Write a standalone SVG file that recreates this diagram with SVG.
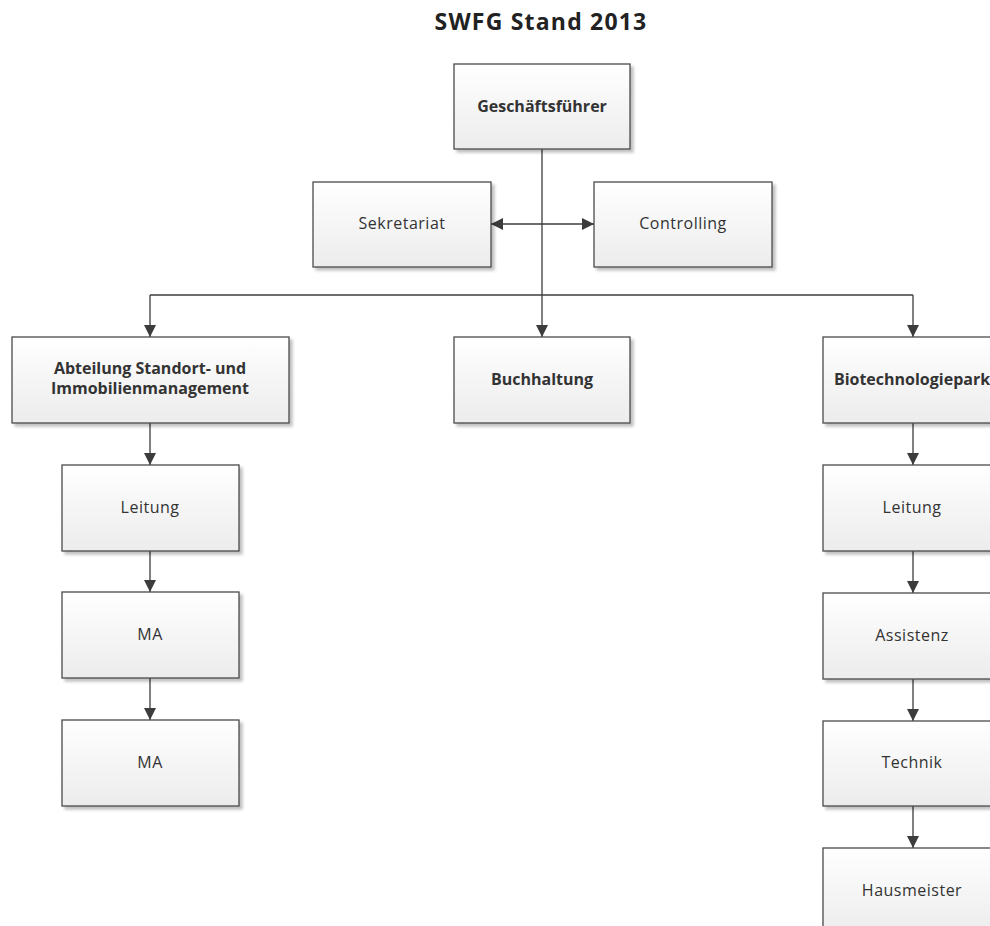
<svg xmlns="http://www.w3.org/2000/svg" width="990" height="926" viewBox="0 0 990 926">
<defs>
<linearGradient id="g" x1="0" y1="0" x2="0" y2="1">
<stop offset="0" stop-color="#ffffff"/>
<stop offset="1" stop-color="#ececec"/>
</linearGradient>
<filter id="sh" x="-10%" y="-10%" width="130%" height="130%">
<feGaussianBlur in="SourceAlpha" stdDeviation="1.5"/>
<feOffset dx="3" dy="3" result="b"/>
<feComponentTransfer><feFuncA type="linear" slope="0.25"/></feComponentTransfer>
<feMerge><feMergeNode/><feMergeNode in="SourceGraphic"/></feMerge>
</filter>
<marker id="ah" viewBox="0 0 12 12" refX="12" refY="6" markerWidth="12" markerHeight="12" markerUnits="userSpaceOnUse" orient="auto">
<path d="M0,0 L12,6 L0,12 z" fill="#3c3c3c"/>
</marker>
</defs>
<style>
.box{fill:url(#g);stroke:#4a4a4a;stroke-width:1.3;filter:url(#sh)}
.t{font-family:"Open Sans","Liberation Sans",sans-serif;font-size:16px;fill:#333;text-anchor:middle;letter-spacing:0.5px}
.b{font-weight:bold;letter-spacing:0}
.c{fill:none;stroke:#3c3c3c;stroke-width:1.3}
</style>
<rect width="990" height="926" fill="#ffffff"/>
<text x="541" y="30" font-family="'Open Sans','Liberation Sans',sans-serif" font-size="23" font-weight="bold" fill="#222" letter-spacing="1.2" text-anchor="middle">SWFG Stand 2013</text>
<g id="connectors">
<path class="c" d="M542,149 V295"/>
<path class="c" d="M542,224 H491" marker-end="url(#ah)"/>
<path class="c" d="M542,224 H594" marker-end="url(#ah)"/>
<path class="c" d="M150,295 H913"/>
<path class="c" d="M542,295 V337" marker-end="url(#ah)"/>
<path class="c" d="M150,295 V337" marker-end="url(#ah)"/>
<path class="c" d="M913,295 V337" marker-end="url(#ah)"/>
<path class="c" d="M150,423 V465" marker-end="url(#ah)"/>
<path class="c" d="M150,551 V592" marker-end="url(#ah)"/>
<path class="c" d="M150,678 V720" marker-end="url(#ah)"/>
<path class="c" d="M913,423 V465" marker-end="url(#ah)"/>
<path class="c" d="M913,551 V593" marker-end="url(#ah)"/>
<path class="c" d="M913,679 V721" marker-end="url(#ah)"/>
<path class="c" d="M913,806 V848" marker-end="url(#ah)"/>
</g>
<g id="gf"><rect class="box" x="454" y="64" width="176" height="85"/><text class="t b" x="542" y="112">Geschäftsführer</text></g>
<g id="sek"><rect class="box" x="313" y="182" width="178" height="85"/><text class="t" x="402" y="229">Sekretariat</text></g>
<g id="con"><rect class="box" x="594" y="182" width="178" height="85"/><text class="t" x="683" y="229">Controlling</text></g>
<g id="abt"><rect class="box" x="12" y="337" width="277" height="86"/><text class="t b" x="150" y="374">Abteilung Standort- und</text><text class="t b" x="150" y="394">Immobilienmanagement</text></g>
<g id="buch"><rect class="box" x="454" y="337" width="176" height="86"/><text class="t b" x="542" y="385">Buchhaltung</text></g>
<g id="bio"><rect class="box" x="823" y="337" width="178" height="86"/><text class="t b" x="912" y="385">Biotechnologiepark</text></g>
<g id="l1"><rect class="box" x="62" y="465" width="177" height="86"/><text class="t" x="150" y="513">Leitung</text></g>
<g id="ma1"><rect class="box" x="62" y="592" width="177" height="86"/><text class="t" x="150" y="640">MA</text></g>
<g id="ma2"><rect class="box" x="62" y="720" width="177" height="86"/><text class="t" x="150" y="768">MA</text></g>
<g id="l2"><rect class="box" x="823" y="465" width="178" height="86"/><text class="t" x="912" y="513">Leitung</text></g>
<g id="ass"><rect class="box" x="823" y="593" width="178" height="86"/><text class="t" x="912" y="641">Assistenz</text></g>
<g id="tec"><rect class="box" x="823" y="721" width="178" height="85"/><text class="t" x="912" y="768">Technik</text></g>
<g id="hm"><rect class="box" x="823" y="848" width="178" height="86"/><text class="t" x="912" y="896">Hausmeister</text></g>
</svg>
